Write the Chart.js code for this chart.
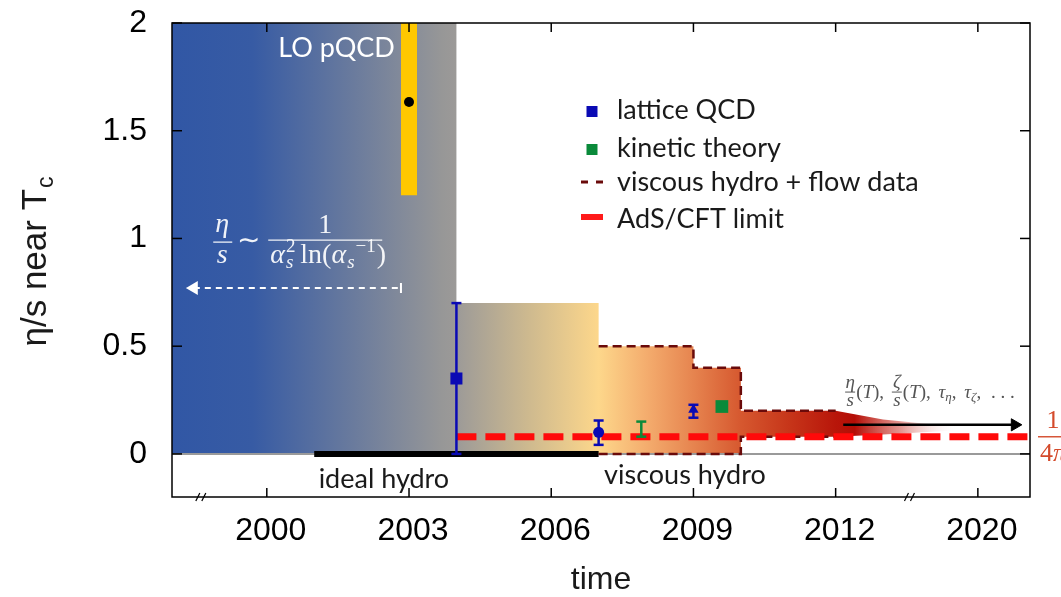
<!DOCTYPE html>
<html>
<head>
<meta charset="utf-8">
<script src="https://cdn.jsdelivr.net/npm/chart.js@4.4.1/dist/chart.umd.min.js"></script>
<style>
  html, body { margin: 0; padding: 0; background: #fff; }
  #wrap { width: 1061px; height: 597px; position: relative; }
</style>
</head>
<body>
<div id="wrap"><canvas id="etaChart"></canvas></div>
<script>
// ticks; the time axis is broken after 2012, so 2020 sits at 2015
const xTickValues = [2000, 2003, 2006, 2009, 2012, 2015];
const xTickLabels = ["2000", "2003", "2006", "2009", "2012", "2020"];
const yTickValues = [0, 0.5, 1, 1.5, 2];
const yTickLabels = ["0", "0.5", "1", "1.5", "2"];
const xBreaks = [1998.65, 2013.6];

// shaded eras (year, eta/s): pQCD up to 2004, ideal hydro to 2007, then viscous hydro
const eraUpperX = [1998, 2004, 2004, 2007, 2007, 2009, 2009, 2010, 2010, 2012, 2013, 2014.6];
const eraUpperY = [2, 2, 0.7, 0.7, 0.5, 0.5, 0.4, 0.4, 0.2, 0.2, 0.16, 0.125];
const eraLowerX = [1998, 2010, 2010, 2012, 2013, 2014.6];
const eraLowerY = [0, 0, 0.08, 0.08, 0.09, 0.11];

// dashed edge of the viscous hydro + flow data constraint
const flowTopX = [2007, 2009, 2009, 2010, 2010, 2012];
const flowTopY = [0.5, 0.5, 0.4, 0.4, 0.2, 0.2];
const flowBottomX = [2007, 2010, 2010, 2012];
const flowBottomY = [0, 0, 0.08, 0.08];

// LO pQCD estimate
const pqcdBandX = [2003, 2003];
const pqcdBandY = [1.2, 2];
const pqcdPointX = [2003];
const pqcdPointY = [1.633];
const pqcdArrowX = [1998.46, 2002.83];
const pqcdArrowY = [0.77, 0.77];

// lattice QCD
const latticeX = [2004, 2007, 2009];
const latticeY = [0.35, 0.1, 0.205];
const latticeLow = [0, 0.042, 0.168];
const latticeHigh = [0.7, 0.155, 0.228];

// kinetic theory
const kineticX = [2007.9, 2009.6];
const kineticY = [0.115, 0.22];
const kineticLow = [0.08, null];
const kineticHigh = [0.15, null];

// AdS/CFT bound 1/(4 pi)
const adsX = [2004, 2016.1];
const adsY = [1 / (4 * Math.PI), 1 / (4 * Math.PI)];

const idealHydroX = [2001, 2007];
const idealHydroY = [0, 0];
const zeroX = [1998, 2016.1];
const zeroY = [0, 0];
const outlookX = [2012.16, 2015.78];
const outlookY = [0.135, 0.135];

const legendLabels = ["lattice QCD", "kinetic theory", "viscous hydro + flow data", "AdS/CFT limit"];

const eraStops = [
  [1998, "#3157a5"], [1999.7, "#375ba4"], [2003.7, "#979797"], [2004, "#9c9a98"],
  [2005.5, "#cdb98f"], [2007, "#fdd78b"], [2008, "#f4ad6e"], [2009, "#e6844f"],
  [2010, "#d6582f"], [2011, "#c7361a"], [2012, "#b8160a"], [2012.4, "rgba(180,14,6,1)"],
  [2013.4, "rgba(205,70,60,0.55)"], [2014.6, "rgba(255,255,255,0)"],
];

const BLUE = "#0a0ab4";
const GREEN = "#0a8a3a";
const DARKRED = "#6a0a0a";
const SANS = "Lato";
const SERIF = "'Liberation Serif'";

const pts = (xs, ys) => xs.map((x, i) => ({ x, y: ys[i] }));

function xGradient(chart, stops) {
  const { ctx, chartArea, scales } = chart;
  if (!chartArea) return "transparent";
  const x0 = scales.x.getPixelForValue(stops[0][0]);
  const x1 = scales.x.getPixelForValue(stops[stops.length - 1][0]);
  const g = ctx.createLinearGradient(x0, 0, x1, 0);
  stops.forEach(([v, c]) => g.addColorStop((scales.x.getPixelForValue(v) - x0) / (x1 - x0), c));
  return g;
}

function line(ctx, x0, y0, x1, y1) {
  ctx.beginPath();
  ctx.moveTo(x0, y0);
  ctx.lineTo(x1, y1);
  ctx.stroke();
}

function put(ctx, text, font, x, y) {
  ctx.font = font;
  ctx.fillText(text, x, y);
  return x + ctx.measureText(text).width;
}

// error bars go under each dataset's markers
const errorBars = {
  id: "errorBars",
  beforeDatasetDraw(chart, args) {
    const ds = chart.data.datasets[args.index];
    if (!ds.errLow) return;
    const { ctx, scales: { x, y } } = chart;
    ctx.save();
    ctx.strokeStyle = ds.pointBackgroundColor;
    ctx.lineWidth = 2.5;
    ds.data.forEach((p, i) => {
      if (ds.errLow[i] == null) return;
      const px = x.getPixelForValue(p.x);
      const lo = y.getPixelForValue(ds.errLow[i]);
      const hi = y.getPixelForValue(ds.errHigh[i]);
      line(ctx, px, lo, px, hi);
      line(ctx, px - 5, lo, px + 5, lo);
      line(ctx, px - 5, hi, px + 5, hi);
    });
    ctx.restore();
  },
};

// box, inward ticks and axis break marks
const frame = {
  id: "frame",
  afterDatasetsDraw(chart) {
    const { ctx, chartArea: a, scales: { x, y } } = chart;
    ctx.save();
    ctx.strokeStyle = "#000";
    ctx.lineWidth = 1.5;
    ctx.strokeRect(a.left, a.top, a.right - a.left, a.bottom - a.top);
    xTickValues.forEach((v) => {
      const px = x.getPixelForValue(v);
      line(ctx, px, a.bottom, px, a.bottom - 9);
      line(ctx, px, a.top, px, a.top + 9);
    });
    yTickValues.forEach((v) => {
      const py = y.getPixelForValue(v);
      line(ctx, a.left, py, a.left + 10, py);
      line(ctx, a.right, py, a.right - 10, py);
    });
    ctx.lineWidth = 1.2;
    xBreaks.forEach((v) => {
      const px = x.getPixelForValue(v);
      line(ctx, px - 7, a.bottom + 4, px - 3, a.bottom - 4);
      line(ctx, px - 1, a.bottom + 4, px + 3, a.bottom - 4);
    });
    ctx.restore();
  },
};

// legend, labels, formulas and axis titles
const annotations = {
  id: "annotations",
  afterDraw(chart) {
    const { ctx, chartArea: a, scales: { x, y } } = chart;
    ctx.save();
    ctx.textBaseline = "alphabetic";

    // legend
    const lx = a.left + 420;
    const rows = [119, 157, 191, 228];
    ctx.fillStyle = "#1a1a1a";
    ctx.textAlign = "left";
    ctx.font = `27px ${SANS}`;
    legendLabels.forEach((t, i) => ctx.fillText(t, lx + 25, rows[i]));
    ctx.fillStyle = BLUE;
    ctx.fillRect(lx - 5.5, rows[0] - 13, 11, 11);
    ctx.fillStyle = GREEN;
    ctx.fillRect(lx - 5.5, rows[1] - 13, 11, 11);
    ctx.strokeStyle = DARKRED;
    ctx.lineWidth = 3;
    line(ctx, lx - 11, rows[2] - 9, lx - 4, rows[2] - 9);
    line(ctx, lx + 4, rows[2] - 9, lx + 11, rows[2] - 9);
    ctx.strokeStyle = "#ff1a1a";
    ctx.lineWidth = 6;
    line(ctx, lx - 11, rows[3] - 11, lx + 11, rows[3] - 11);

    // era labels
    ctx.font = `27px ${SANS}`;
    ctx.fillStyle = "#fff";
    ctx.fillText("LO pQCD", x.getPixelForValue(2000.24), y.getPixelForValue(1.842));
    ctx.fillStyle = "#1a1a1a";
    ctx.textAlign = "center";
    ctx.fillText("ideal hydro", x.getPixelForValue(2002.47), y.getPixelForValue(-0.158));
    ctx.fillText("viscous hydro", x.getPixelForValue(2008.82), y.getPixelForValue(-0.14));

    // eta/s ~ 1 / (alpha_s^2 ln(1/alpha_s))
    const fc = "rgba(255,255,255,0.92)";
    ctx.fillStyle = fc;
    ctx.strokeStyle = fc;
    ctx.lineWidth = 1.3;
    const cx = x.getPixelForValue(1998.87);
    const cy = y.getPixelForValue(0.983);
    const it = `italic 28px ${SERIF}`;
    const rm = `28px ${SERIF}`;
    const sit = `italic 19px ${SERIF}`;
    const srm = `19px ${SERIF}`;
    ctx.textAlign = "center";
    put(ctx, "η", it, cx + 9, cy - 10);
    put(ctx, "s", it, cx + 9, cy + 21);
    line(ctx, cx, cy, cx + 19, cy);
    put(ctx, "∼", rm, cx + 35, cy + 7);
    const fx = cx + 55, fw = 114;
    put(ctx, "1", rm, fx + fw / 2, cy - 9);
    line(ctx, fx, cy - 2, fx + fw, cy - 2);
    ctx.textAlign = "left";
    const base = cy + 21;
    let dx = fx + 2;
    dx = put(ctx, "α", it, dx, base);
    put(ctx, "2", srm, dx + 1, base - 11);
    dx = put(ctx, "s", sit, dx + 1, base + 5) + 7;
    dx = put(ctx, "ln(", rm, dx, base);
    dx = put(ctx, "α", it, dx, base);
    dx = put(ctx, "s", sit, dx + 1, base + 5);
    dx = put(ctx, "−1", srm, dx + 1, base - 11);
    put(ctx, ")", rm, dx + 1, base);

    // eta/s(T), zeta/s(T), tau_eta, tau_zeta, ...
    ctx.fillStyle = "#555";
    ctx.strokeStyle = "#555";
    ctx.lineWidth = 1;
    const gy = y.getPixelForValue(0.287);
    let gx = x.getPixelForValue(2012.2);
    const git = `italic 19px ${SERIF}`;
    const grm = `19px ${SERIF}`;
    const gsub = `italic 13px ${SERIF}`;
    const frac = (top) => {
      ctx.textAlign = "center";
      put(ctx, top, git, gx + 5, gy - 4);
      put(ctx, "s", git, gx + 5, gy + 14);
      line(ctx, gx, gy, gx + 10, gy);
      ctx.textAlign = "left";
      gx += 11;
    };
    frac("η");
    gx = put(ctx, "(", grm, gx, gy + 6);
    gx = put(ctx, "T", git, gx, gy + 6);
    gx = put(ctx, "), ", grm, gx, gy + 6) + 3;
    frac("ζ");
    gx = put(ctx, "(", grm, gx, gy + 6);
    gx = put(ctx, "T", git, gx, gy + 6);
    gx = put(ctx, "), ", grm, gx, gy + 6) + 3;
    gx = put(ctx, "τ", git, gx, gy + 6);
    gx = put(ctx, "η", gsub, gx, gy + 9);
    gx = put(ctx, ", ", grm, gx, gy + 6) + 3;
    gx = put(ctx, "τ", git, gx, gy + 6);
    gx = put(ctx, "ζ", gsub, gx, gy + 9);
    gx = put(ctx, ", ", grm, gx, gy + 6) + 5;
    put(ctx, ". . .", grm, gx, gy + 6);

    // 1/(4 pi) beside the bound
    const ry = y.getPixelForValue(adsY[0]);
    ctx.fillStyle = "#d44a2b";
    ctx.strokeStyle = "#d44a2b";
    ctx.lineWidth = 1.4;
    ctx.textAlign = "center";
    put(ctx, "1", `26px ${SERIF}`, a.right + 23, ry - 9);
    line(ctx, a.right + 8, ry, a.right + 40, ry);
    ctx.textAlign = "left";
    const px4 = put(ctx, "4", `26px ${SERIF}`, a.right + 10, ry + 24);
    put(ctx, "π", `italic 26px ${SERIF}`, px4, ry + 24);

    // axis titles
    ctx.fillStyle = "#1a1a1a";
    ctx.textAlign = "center";
    ctx.font = "32px 'Liberation Sans'";
    ctx.fillText("time", (a.left + a.right) / 2, 589);

    ctx.translate(46, 262);
    ctx.rotate(-Math.PI / 2);
    ctx.textAlign = "left";
    ctx.font = "35px 'Liberation Sans'";
    const main = "η/s near T";
    const w1 = ctx.measureText(main).width;
    ctx.font = "23px 'Liberation Sans'";
    const w2 = ctx.measureText("c").width;
    const sx = -(w1 + w2) / 2;
    ctx.font = "35px 'Liberation Sans'";
    ctx.fillText(main, sx, 0);
    ctx.font = "23px 'Liberation Sans'";
    ctx.fillText("c", sx + w1 + 1, 7);
    ctx.restore();
  },
};

const datasets = [
  {
    label: "lattice QCD",
    data: pts(latticeX, latticeY),
    showLine: false,
    pointStyle: ["rect", "circle", "triangle"],
    pointRadius: [8.5, 5.5, 6],
    pointBackgroundColor: BLUE,
    pointBorderColor: BLUE,
    pointBorderWidth: 0,
    errLow: latticeLow,
    errHigh: latticeHigh,
  },
  {
    label: "kinetic theory",
    data: pts(kineticX, kineticY),
    showLine: false,
    pointStyle: "rect",
    pointRadius: [0, 9],
    pointBackgroundColor: GREEN,
    pointBorderColor: GREEN,
    pointBorderWidth: 0,
    errLow: kineticLow,
    errHigh: kineticHigh,
  },
  {
    label: "LO pQCD",
    data: pts(pqcdPointX, pqcdPointY),
    showLine: false,
    pointRadius: 5,
    pointBackgroundColor: "#000",
    pointBorderWidth: 0,
  },
  {
    label: "AdS/CFT limit",
    data: pts(adsX, adsY),
    borderColor: "#ff0a0a",
    borderWidth: 7,
    borderDash: [20, 9],
    borderCapStyle: "butt",
    pointRadius: 0,
  },
  {
    label: "outlook",
    data: pts(outlookX, outlookY),
    borderColor: "#000",
    borderWidth: 2.5,
    pointStyle: "triangle",
    pointRotation: 90,
    pointRadius: [0, 7],
    pointBackgroundColor: "#000",
    pointBorderColor: "#000",
    pointBorderWidth: 1,
  },
  {
    label: "pQCD scaling",
    data: pts(pqcdArrowX, pqcdArrowY),
    borderColor: "#fff",
    borderWidth: 2,
    borderDash: [6, 5],
    pointStyle: ["triangle", "line"],
    pointRotation: [-90, 90],
    pointRadius: [6, 5],
    pointBackgroundColor: "#fff",
    pointBorderColor: "#fff",
    pointBorderWidth: 2,
  },
  {
    label: "flow edge top",
    data: pts(flowTopX, flowTopY),
    borderColor: DARKRED,
    borderWidth: 2.5,
    borderDash: [9, 5],
    pointRadius: 0,
  },
  {
    label: "flow edge bottom",
    data: pts(flowBottomX, flowBottomY),
    borderColor: DARKRED,
    borderWidth: 2.5,
    borderDash: [9, 5],
    pointRadius: 0,
  },
  {
    label: "pQCD band",
    data: pts(pqcdBandX, pqcdBandY),
    borderColor: "#ffc800",
    borderWidth: 16,
    borderCapStyle: "butt",
    pointRadius: 0,
  },
  {
    label: "ideal hydro",
    data: pts(idealHydroX, idealHydroY),
    borderColor: "#000",
    borderWidth: 6,
    borderCapStyle: "butt",
    pointRadius: 0,
  },
  {
    label: "zero",
    data: pts(zeroX, zeroY),
    borderColor: "#9a9a9a",
    borderWidth: 2,
    pointRadius: 0,
  },
  {
    label: "eras",
    data: pts(eraUpperX, eraUpperY),
    borderWidth: 0,
    pointRadius: 0,
    fill: "+1",
    backgroundColor: (c) => xGradient(c.chart, eraStops),
  },
  {
    label: "eras lower edge",
    data: pts(eraLowerX, eraLowerY),
    borderWidth: 0,
    pointRadius: 0,
  },
];

new Chart(document.getElementById("etaChart"), {
  type: "line",
  data: { datasets },
  plugins: [errorBars, frame, annotations],
  options: {
    responsive: true,
    maintainAspectRatio: false,
    devicePixelRatio: 1,
    animation: false,
    events: [],
    layout: { padding: { top: 23, right: 31, bottom: 0, left: 0 } },
    plugins: { legend: { display: false }, tooltip: { enabled: false } },
    scales: {
      x: {
        type: "linear",
        min: 1998,
        max: 2016.1,
        afterBuildTicks: (s) => { s.ticks = xTickValues.map((value) => ({ value })); },
        afterFit: (s) => {
          s.height = 100;
          s.paddingLeft = 0;
          s.paddingRight = 0;
        },
        grid: { display: false, drawTicks: false },
        border: { display: false },
        ticks: {
          autoSkip: false,
          maxRotation: 0,
          padding: 15,
          labelOffset: 4,
          color: "#000",
          font: { family: "'Liberation Sans'", size: 32 },
          callback: (v) => xTickLabels[xTickValues.indexOf(v)],
        },
      },
      y: {
        min: -0.2,
        max: 2,
        afterBuildTicks: (s) => { s.ticks = yTickValues.map((value) => ({ value })); },
        afterFit: (s) => {
          s.width = 172;
          s.paddingTop = 0;
          s.paddingBottom = 0;
        },
        grid: { display: false, drawTicks: false },
        border: { display: false },
        ticks: {
          padding: 25,
          color: "#000",
          font: { family: "'Liberation Sans'", size: 32 },
          callback: (v) => yTickLabels[yTickValues.indexOf(v)],
        },
      },
    },
  },
});
</script>
</body>
</html>
